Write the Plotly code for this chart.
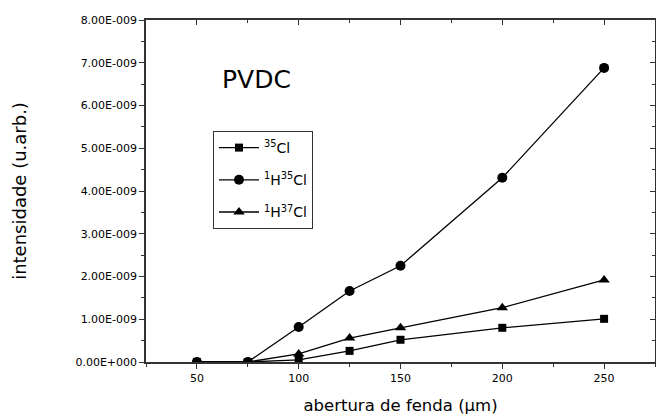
import plotly.graph_objects as go

# slit aperture (µm)
abertura = [50, 75, 100, 125, 150, 200, 250]

# ion intensities (arb. units)
cl35 = [0.0, 0.0, 0.05e-9, 0.26e-9, 0.52e-9, 0.80e-9, 1.01e-9]
h_cl35 = [0.0, 0.0, 0.82e-9, 1.66e-9, 2.25e-9, 4.31e-9, 6.88e-9]
h_cl37 = [0.0, 0.0, 0.19e-9, 0.56e-9, 0.80e-9, 1.27e-9, 1.92e-9]

series_names = ["<sup>35</sup>Cl", "<sup>1</sup>H<sup>35</sup>Cl", "<sup>1</sup>H<sup>37</sup>Cl"]
series_symbols = ["square", "circle", "triangle-up"]

y_tickvals = [i * 1e-9 for i in range(9)]
y_ticktext = ["0.00E+000"] + ["%d.00E-009" % i for i in range(1, 9)]
x_tickvals = [50, 100, 150, 200, 250]

FONT = "DejaVu Sans, Arial, sans-serif"
X_RANGE = [25, 275]
Y_RANGE = [0, 8e-9]

fig = go.Figure()
for i, (vals, name, sym) in enumerate(zip([cl35, h_cl35, h_cl37], series_names, series_symbols)):
    fig.add_trace(go.Scatter(
        x=abertura, y=vals, name=name, mode="lines+markers",
        line=dict(color="black", width=1.3),
        marker=dict(symbol=sym, size=10 if sym != "square" else 8, color="black"),
        legendgroup=str(i),
    ))

axis_common = dict(showgrid=False, zeroline=False, showline=True,
                   linecolor="#333", linewidth=1.5, tickcolor="#333",
                   tickfont=dict(family=FONT, size=11, color="black"))
mirror_common = {k: v for k, v in axis_common.items() if k != "tickfont"}

pw, ph = 656 - 146 - 1, 417 - 20 - 55

fig.update_layout(
    width=656, height=417,
    margin=dict(l=146, r=1, t=20, b=55),
    plot_bgcolor="white", paper_bgcolor="white",
    font=dict(family=FONT, color="black"),
    showlegend=True,
    legend=dict(
        x=(213 - 146) / pw, y=1 - (131 - 20) / ph,
        xanchor="left", yanchor="top",
        bordercolor="#333", borderwidth=1, bgcolor="white",
        font=dict(family=FONT, size=14, color="black"),
        tracegroupgap=11, itemwidth=40,
    ),
    xaxis=dict(
        range=X_RANGE, tickvals=x_tickvals, ticks="outside", ticklen=5,
        minor=dict(dtick=25, tick0=25, ticks="outside", ticklen=3, tickcolor="#333"),
        title=dict(text="abertura de fenda (\u00b5m)", font=dict(family=FONT, size=16.5), standoff=15),
        **axis_common,
    ),
    yaxis=dict(
        range=Y_RANGE, tickvals=y_tickvals, ticktext=y_ticktext,
        ticks="outside", ticklen=5,
        minor=dict(dtick=0.5e-9, tick0=0, ticks="outside", ticklen=3, tickcolor="#333"),
        title=dict(text="intensidade (u.arb.)", font=dict(family=FONT, size=18), standoff=44),
        **axis_common,
    ),
    xaxis2=dict(
        overlaying="x", side="top", range=X_RANGE, tickvals=x_tickvals,
        showticklabels=False, ticks="inside", ticklen=5,
        minor=dict(dtick=25, tick0=25, ticks="inside", ticklen=3, tickcolor="#333"),
        **mirror_common,
    ),
    yaxis2=dict(
        overlaying="y", side="right", range=Y_RANGE, tickvals=y_tickvals,
        showticklabels=False, ticks="inside", ticklen=5,
        minor=dict(dtick=0.5e-9, tick0=0, ticks="inside", ticklen=3, tickcolor="#333"),
        **mirror_common,
    ),
    annotations=[dict(
        text="PVDC", x=79.5, y=6.62e-9, xref="x", yref="y",
        showarrow=False, font=dict(family=FONT, size=25, color="black"),
    )],
)

# anchor the mirrored axes so they are drawn
fig.add_trace(go.Scatter(x=[None], y=[None], xaxis="x2", yaxis="y2", showlegend=False, hoverinfo="skip"))

fig.write_html("out.html")
